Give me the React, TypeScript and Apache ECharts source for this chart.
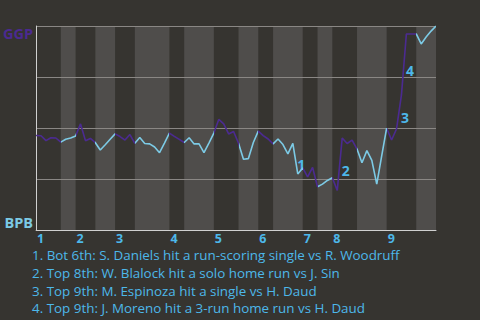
import { useEffect, useRef } from 'react';
import * as echarts from 'echarts';

// Win probability for GGP (1 = GGP wins, 0 = BPB wins), one value per play
const winProb = [
  0.463, 0.462, 0.438, 0.452, 0.451, 0.431, 0.445, 0.451, 0.461, 0.520,
  0.438, 0.449, 0.428, 0.392, 0.418, 0.445, 0.471, 0.458, 0.441, 0.468,
  0.425, 0.453, 0.424, 0.422, 0.407, 0.379, 0.426, 0.475, 0.459, 0.444,
  0.429, 0.452, 0.422, 0.422, 0.379, 0.426, 0.475, 0.542, 0.520, 0.471,
  0.483, 0.425, 0.347, 0.350, 0.429, 0.485, 0.463, 0.446, 0.422, 0.446,
  0.419, 0.373, 0.425, 0.275, 0.304, 0.260, 0.307, 0.212, 0.225, 0.243,
  0.256, 0.194, 0.451, 0.424, 0.441, 0.397, 0.330, 0.389, 0.341, 0.225,
  0.363, 0.499, 0.441, 0.495, 0.662, 0.961, 0.961, 0.961, 0.912, 0.946,
  0.975, 1.0,
];

// Play index where each half-inning starts (top 1st, bot 1st, ...), plus final play
const halfBounds = [0, 5, 8, 12, 16, 20, 27, 30, 36, 41, 45, 48, 54, 57, 60, 65, 71, 77, 81];
const inningNames = ['1', '2', '3', '4', '5', '6', '7', '8', '9'];

const eventPlays = [53, 62, 74, 75];
const eventTexts = [
  'Bot 6th: S. Daniels hit a run-scoring single vs R. Woodruff',
  'Top 8th: W. Blalock hit a solo home run vs J. Sin',
  'Top 9th: M. Espinoza hit a single vs H. Daud',
  'Top 9th: J. Moreno hit a 3-run home run vs H. Daud',
];

const teamTop = 'GGP';
const teamBottom = 'BPB';

const PURPLE = '#4b2a91';
const LIGHTBLUE = '#7ccae5';
const LABEL = '#4db8ea';
const BG = '#363430';
const BAND = '#4f4d4b';
const FONT = '"Open Sans", "Noto Sans", sans-serif';

export default function App() {
  const ref = useRef<HTMLDivElement>(null);

  useEffect(() => {
    if (!ref.current) return;
    const chart = echarts.init(ref.current, undefined, { renderer: 'svg' });
    const data = winProb.map((v, i) => [i, v]);
    const lastPlay = winProb.length - 1;

    const pieces: any[] = [];
    const bands: any[] = [];
    for (let k = 0; k < halfBounds.length - 1; k++) {
      const isTop = k % 2 === 0;
      const last = k === halfBounds.length - 2;
      pieces.push(
        last
          ? { gte: halfBounds[k], lte: halfBounds[k + 1], color: isTop ? PURPLE : LIGHTBLUE }
          : { gte: halfBounds[k], lt: halfBounds[k + 1], color: isTop ? PURPLE : LIGHTBLUE }
      );
      if (!isTop) bands.push([{ xAxis: halfBounds[k] }, { xAxis: halfBounds[k + 1] }]);
    }
    const inningStarts = halfBounds.filter((_, k) => k % 2 === 0 && k < halfBounds.length - 1);

    const marks = eventPlays.map((p, k) => ({
      coord: [p - 0.5, (winProb[p - 1] + winProb[p]) / 2],
      value: String(k + 1),
    }));

    chart.setOption({
      animation: false,
      backgroundColor: BG,
      textStyle: { fontFamily: FONT },
      title: {
        text: eventTexts.map((t, k) => `${k + 1}. ${t}`).join('\n'),
        left: 32,
        top: 246,
        padding: 0,
        textStyle: {
          color: LABEL,
          fontSize: 13.4,
          fontWeight: 'normal',
          lineHeight: 17.8,
          fontFamily: FONT,
        },
      },
      grid: { left: 30, right: 44, top: 26, bottom: 90, containLabel: false },
      visualMap: {
        show: false,
        type: 'piecewise',
        dimension: 0,
        seriesIndex: 0,
        pieces,
      },
      xAxis: {
        type: 'value',
        min: 0,
        max: lastPlay,
        z: 3,
        axisLine: { show: true, lineStyle: { color: '#d0d0d0', width: 1 } },
        axisTick: { show: false },
        splitLine: { show: false },
        axisLabel: {
          customValues: inningStarts,
          formatter: (v: number) => inningNames[inningStarts.indexOf(v)] ?? '',
          align: 'left',
          color: LABEL,
          fontWeight: 'bold',
          fontSize: 12.5,
          lineHeight: 11,
          margin: 3,
          padding: [0, 0, 0, 1],
          fontFamily: FONT,
        },
      },
      yAxis: {
        type: 'value',
        min: 0,
        max: 1,
        interval: 0.25,
        z: 3,
        axisLine: { show: true, lineStyle: { color: '#d0d0d0', width: 1 } },
        axisTick: { show: false },
        splitLine: { show: true, lineStyle: { color: '#8a8784', width: 1 } },
        axisLabel: {
          customValues: [0, 1],
          formatter: (v: number) => (v >= 1 ? teamTop : teamBottom),
          color: (v: any) => (Number(v) >= 1 ? PURPLE : LIGHTBLUE),
          fontWeight: 'bold',
          fontSize: 14.5,
          margin: 3,
          verticalAlignMinLabel: 'bottom',
          verticalAlignMaxLabel: 'top',
          fontFamily: FONT,
        },
      },
      series: [
        {
          type: 'line',
          data,
          z: 5,
          showSymbol: false,
          symbol: 'none',
          lineStyle: { width: 1.6 },
          markPoint: {
            symbol: 'circle',
            symbolSize: 0,
            silent: true,
            data: marks,
            label: {
              show: true,
              position: 'inside',
              offset: [6, 6],
              formatter: (p: any) => p.value,
              color: LABEL,
              fontWeight: 'bold',
              fontSize: 14,
              fontFamily: FONT,
            },
          },
        },
        {
          type: 'line',
          data,
          z: 1,
          symbol: 'none',
          showSymbol: false,
          lineStyle: { opacity: 0, width: 0 },
          silent: true,
          markArea: {
            silent: true,
            itemStyle: { color: BAND, opacity: 1 },
            data: bands,
          },
        },
      ],
    });

    return () => chart.dispose();
  }, []);

  return (
    <div
      ref={ref}
      style={{ position: 'fixed', left: 0, top: 0, width: 480, height: 320 }}
    />
  );
}
